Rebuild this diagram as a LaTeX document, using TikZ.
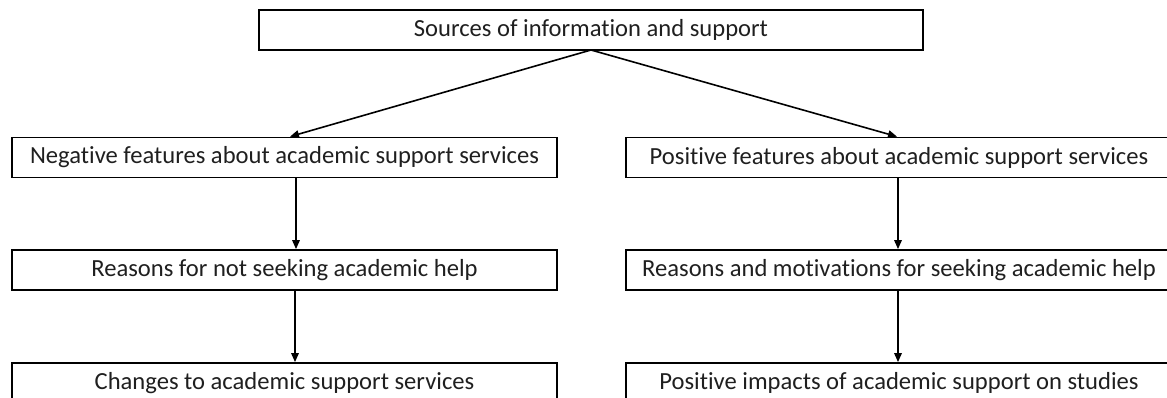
\documentclass[tikz,border=0pt]{standalone}
\usepackage{fontspec}
\setmainfont{Carlito}[Ligatures=NoCommon]
\usetikzlibrary{arrows.meta}
\begin{document}
\begin{tikzpicture}[x=1pt,y=-1pt,
  box/.style={draw=black,line width=1.8pt,inner sep=0pt,minimum height=40pt,
    font=\fontsize{24.6}{26}\selectfont,text=black!88},
  rbox/.style={box,minimum width=562pt},
  arr/.style={line width=1.6pt,-{Triangle[length=9pt,width=7.5pt]}}]
\useasboundingbox (0,0) rectangle (1167,398);
\clip (0,0) rectangle (1167,398);
\node[box,minimum width=664pt] (top) at (591,30) {Sources of information and support};
\node[box,minimum width=545pt] (neg) at (284.5,157.5) {Negative features about academic support services};
\node[rbox] (pos) at (907,157.5) {\hspace*{-16pt}Positive features about academic support services};
\node[box,minimum width=545pt] (rno) at (284.5,270) {Reasons for not seeking academic help};
\node[rbox] (rmo) at (907,270) {\hspace*{-16pt}Reasons and motivations for seeking academic help};
\node[box,minimum width=545pt] (chg) at (284.5,383) {Changes to academic support services};
\node[rbox] (imp) at (907,383) {\hspace*{-16pt}Positive impacts of academic support on studies};
\coordinate (src) at (591,50);
\draw[arr] (src) -- (neg.north -| 290,0);
\draw[arr] (src) -- (pos.north -| 897,0);
\draw[arr] (neg.south -| 296,0) -- (rno.north -| 296,0);
\draw[arr] (pos.south -| 898,0) -- (rmo.north -| 898,0);
\draw[arr] (rno.south -| 295,0) -- (chg.north -| 295,0);
\draw[arr] (rmo.south -| 898,0) -- (imp.north -| 898,0);
\end{tikzpicture}
\end{document}
